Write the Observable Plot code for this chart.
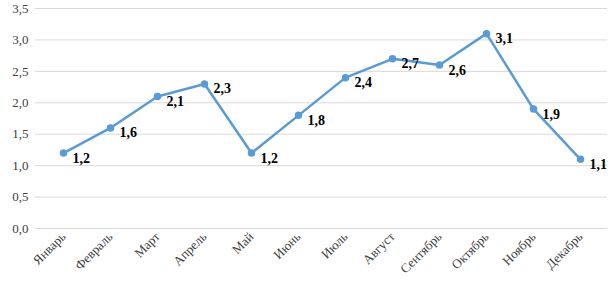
<!DOCTYPE html>
<html>
<head>
<meta charset="utf-8">
<script src="https://cdn.jsdelivr.net/npm/d3@7"></script>
<script src="https://cdn.jsdelivr.net/npm/@observablehq/plot@0.6"></script>
<style>
  html, body { margin: 0; padding: 0; background: #fff; }
  svg text { font-family: "Liberation Serif", serif !important; }
</style>
</head>
<body>
<div id="chart"></div>
<script>
const months = ["Январь","Февраль","Март","Апрель","Май","Июнь","Июль","Август","Сентябрь","Октябрь","Ноябрь","Декабрь"];
const values = [1.2, 1.6, 2.1, 2.3, 1.2, 1.8, 2.4, 2.7, 2.6, 3.1, 1.9, 1.1];
const yTicks = [0, 0.5, 1, 1.5, 2, 2.5, 3, 3.5];

const data = months.map((m, i) => ({month: m, value: values[i]}));
const fmt = v => v.toFixed(1).replace(".", ",");

const chart = Plot.plot({
  width: 615,
  height: 290,
  marginLeft: 35,
  marginRight: 8,
  marginTop: 8,
  marginBottom: 62,
  style: "font-family: 'Liberation Serif', serif; font-size: 13px; color: #404040; background: #fff;",
  x: {type: "point", domain: months, padding: 0.5, label: null, tickRotate: -45, tickSize: 0, tickPadding: 6},
  y: {domain: [0, 3.5], ticks: yTicks, tickFormat: fmt, label: null, tickSize: 0, tickPadding: 7},
  marks: [
    Plot.ruleY(yTicks, {stroke: "#d9d9d9", strokeWidth: 1}),
    Plot.line(data, {x: "month", y: "value", stroke: "#5b9bd5", strokeWidth: 2.5}),
    Plot.dot(data, {x: "month", y: "value", r: 3, fill: "#5b9bd5", stroke: "#5b9bd5"}),
    Plot.text(data, {x: "month", y: "value", text: d => fmt(d.value), dx: 9, dy: 5, textAnchor: "start", fontWeight: "bold", fontSize: 14, fill: "#000"})
  ]
});
document.getElementById("chart").appendChild(chart);
</script>
</body>
</html>
